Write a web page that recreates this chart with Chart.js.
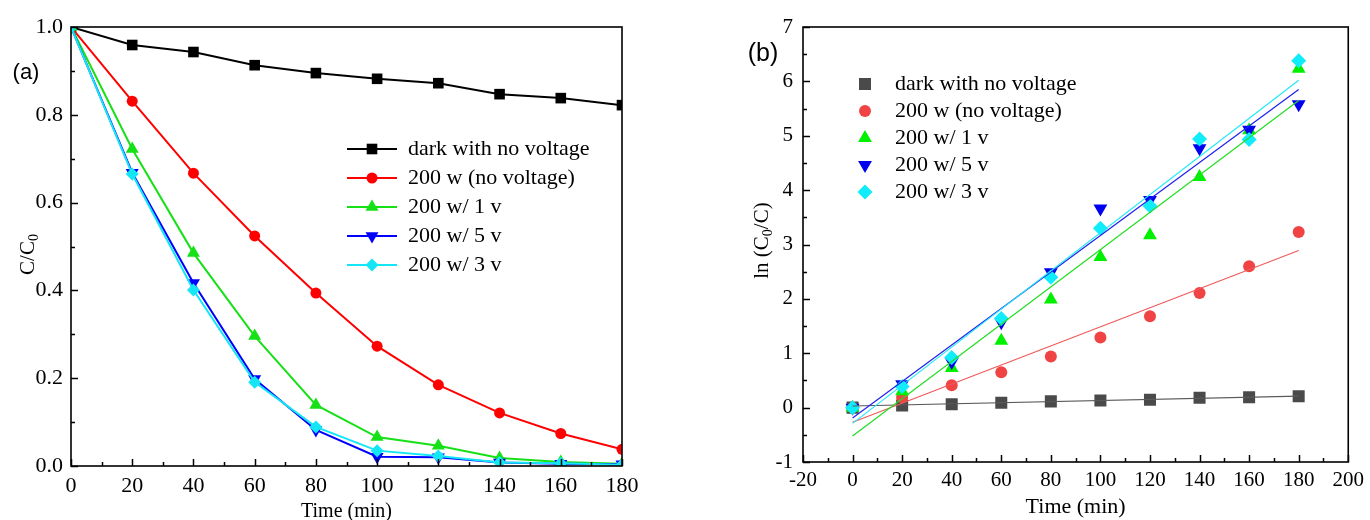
<!DOCTYPE html>
<html>
<head>
<meta charset="utf-8">
<script src="https://cdn.jsdelivr.net/npm/chart.js@4.4.1/dist/chart.umd.min.js"></script>
<style>
  html, body { margin: 0; padding: 0; background: #fff; }
  #wrap { position: relative; width: 1370px; height: 520px; overflow: hidden; }
  .panel { position: absolute; top: 0; width: 685px; height: 520px; }
</style>
</head>
<body>
<div id="wrap">
  <div class="panel" style="left:0"><canvas id="chartA" width="685" height="520"></canvas></div>
  <div class="panel" style="left:685px"><canvas id="chartB" width="685" height="520"></canvas></div>
</div>
<script>
// Sampling times (min)
const times = [0, 20, 40, 60, 80, 100, 120, 140, 160, 180];
const seriesNames = ['dark with no voltage', '200 w (no voltage)', '200 w/ 1 v', '200 w/ 5 v', '200 w/ 3 v'];

// (a) C/C0 versus time
const ratioDark  = [1.000, 0.959, 0.943, 0.913, 0.895, 0.882, 0.872, 0.847, 0.838, 0.822];
const ratioLight = [1.000, 0.831, 0.667, 0.524, 0.394, 0.273, 0.185, 0.121, 0.074, 0.038];
const ratio1V    = [1.000, 0.722, 0.485, 0.296, 0.139, 0.066, 0.046, 0.018, 0.009, 0.005];
const ratio5V    = [1.000, 0.668, 0.417, 0.198, 0.082, 0.021, 0.020, 0.008, 0.005, 0.004];
const ratio3V    = [1.000, 0.665, 0.401, 0.191, 0.089, 0.035, 0.023, 0.008, 0.006, 0.003];

// (b) ln(C0/C) versus time
const lnDark  = [0, 0.04, 0.06, 0.09, 0.115, 0.13, 0.145, 0.18, 0.19, 0.21];
const lnLight = [0, 0.19, 0.41, 0.65, 0.94, 1.29, 1.68, 2.11, 2.60, 3.23];
const ln1V    = [0, 0.30, 0.73, 1.23, 1.99, 2.77, 3.17, 4.24, 5.10, 6.23];
const ln5V    = [0, 0.43, 0.84, 1.57, 2.49, 3.66, 3.82, 4.77, 5.11, 5.58];
const ln3V    = [0, 0.39, 0.92, 1.64, 2.40, 3.30, 3.71, 4.94, 4.93, 6.38];

// Linear fits: value at t = 0 and at t = 180
const fitTimes = [0, 180];
const fitDark  = [0.03, 0.21];
const fitLight = [-0.27, 2.89];
const fit1V    = [-0.52, 5.65];
const fit5V    = [-0.19, 5.85];
const fit3V    = [-0.29, 6.02];

const SERIF = '"Liberation Serif", "Times New Roman", serif';
const SANS = '"Liberation Sans", Arial, sans-serif';

const pts = (xs, ys) => xs.map((x, i) => ({ x: x, y: ys[i] }));

// Frame, inward ticks, legend, axis titles and panel label
const decor = {
  id: 'decor',
  afterDatasetsDraw(chart, args, o) {
    const { ctx, chartArea: a } = chart;
    const xs = chart.scales.x, ys = chart.scales.y;
    ctx.save();
    ctx.strokeStyle = '#000';
    ctx.lineWidth = o.frameWidth;
    ctx.strokeRect(a.left, a.top, a.right - a.left, a.bottom - a.top);

    ctx.lineWidth = o.tickWidth;
    ctx.beginPath();
    const nx = Math.round((xs.max - xs.min) / o.minorX);
    for (let i = 0; i <= nx; i++) {
      const px = Math.round(xs.getPixelForValue(xs.min + i * o.minorX)) + 0.5;
      const len = i % 2 === 0 ? o.majorLen : o.minorLen;
      ctx.moveTo(px, a.bottom);
      ctx.lineTo(px, a.bottom - len);
    }
    const ny = Math.round((ys.max - ys.min) / o.minorY);
    for (let i = 0; i <= ny; i++) {
      const py = Math.round(ys.getPixelForValue(ys.min + i * o.minorY)) + 0.5;
      const len = i % 2 === 0 ? o.majorLen : o.minorLen;
      ctx.moveTo(a.left, py);
      ctx.lineTo(a.left + len, py);
    }
    ctx.stroke();

    // legend
    const L = o.legend;
    ctx.font = L.fontSize + 'px ' + SERIF;
    ctx.textBaseline = 'middle';
    ctx.textAlign = 'left';
    let row = 0;
    chart.data.datasets.forEach((ds) => {
      if (!ds.label) return;
      const y = L.y0 + row * L.dy;
      if (L.line) {
        ctx.strokeStyle = ds.borderColor;
        ctx.lineWidth = ds.borderWidth;
        ctx.beginPath();
        ctx.moveTo(L.lineX0, y);
        ctx.lineTo(L.lineX1, y);
        ctx.stroke();
      }
      ctx.fillStyle = ds.backgroundColor;
      ctx.strokeStyle = ds.backgroundColor;
      Chart.helpers.drawPoint(ctx, {
        pointStyle: ds.pointStyle,
        radius: ds.pointRadius,
        rotation: ds.pointRotation || 0,
        borderWidth: 0
      }, L.markX, y);
      ctx.fillStyle = '#000';
      ctx.fillText(ds.label, L.textX, y);
      row++;
    });

    // panel label
    ctx.font = o.tag.fontSize + 'px ' + SANS;
    ctx.textAlign = 'center';
    ctx.fillText(o.tag.text, o.tag.x, o.tag.y);

    // x title
    ctx.font = o.xTitle.fontSize + 'px ' + SERIF;
    ctx.fillText(o.xTitle.text, (a.left + a.right) / 2, o.xTitle.y);

    // y title with subscript
    const T = o.yTitle;
    const big = T.fontSize + 'px ' + SERIF;
    const small = Math.round(T.fontSize * 0.68) + 'px ' + SERIF;
    let total = 0;
    const widths = T.parts.map((p) => {
      ctx.font = p.sub ? small : big;
      const w = ctx.measureText(p.t).width;
      total += w;
      return w;
    });
    ctx.translate(T.x, (a.top + a.bottom) / 2 + T.dy);
    ctx.rotate(-Math.PI / 2);
    ctx.textAlign = 'left';
    let cx = -total / 2;
    T.parts.forEach((p, i) => {
      ctx.font = p.sub ? small : big;
      ctx.fillText(p.t, cx, p.sub ? T.fontSize * 0.28 : 0);
      cx += widths[i];
    });
    ctx.restore();
  }
};

function axes(xmin, xmax, xstep, ymin, ymax, ystep, yfmt, yWidth, xHeight, xPad, yPad, fontSize) {
  const tickFont = { family: SERIF, size: fontSize };
  return {
    x: {
      type: 'linear', min: xmin, max: xmax,
      grid: { display: false, drawTicks: false },
      border: { display: false },
      ticks: { stepSize: xstep, font: tickFont, color: '#000', padding: xPad, maxRotation: 0, autoSkip: false },
      afterFit: (s) => { s.height = xHeight; }
    },
    y: {
      type: 'linear', min: ymin, max: ymax,
      grid: { display: false, drawTicks: false },
      border: { display: false },
      ticks: { stepSize: ystep, font: tickFont, color: '#000', padding: yPad, autoSkip: false, callback: yfmt },
      afterFit: (s) => { s.width = yWidth; }
    }
  };
}

// ---------- (a) ----------
const colorsA = ['#000000', '#ff0000', '#16e016', '#0000ff', '#14e6f5'];
const stylesA = [
  { pointStyle: 'rect', pointRadius: 7.5 },
  { pointStyle: 'circle', pointRadius: 5.5 },
  { pointStyle: 'triangle', pointRadius: 7.5 },
  { pointStyle: 'triangle', pointRadius: 7.5, pointRotation: 180 },
  { pointStyle: 'rectRot', pointRadius: 6.5 }
];
const seriesA = [ratioDark, ratioLight, ratio1V, ratio5V, ratio3V];

new Chart(document.getElementById('chartA'), {
  type: 'scatter',
  data: {
    datasets: seriesA.map((vals, i) => Object.assign({
      label: seriesNames[i],
      data: pts(times, vals),
      showLine: true,
      borderColor: colorsA[i],
      backgroundColor: colorsA[i],
      pointBackgroundColor: colorsA[i],
      pointBorderColor: colorsA[i],
      pointBorderWidth: 0,
      borderWidth: 2,
      tension: 0,
      clip: 0,
      order: 4 - i
    }, stylesA[i]))
  },
  options: {
    responsive: false,
    animation: false,
    devicePixelRatio: 1,
    layout: { padding: { left: 0, top: 27, right: 63, bottom: 0 } },
    scales: axes(0, 180, 20, 0, 1, 0.2, (v) => v.toFixed(1), 71, 54, 7, 8, 22),
    plugins: {
      legend: { display: false },
      tooltip: { enabled: false },
      decor: {
        frameWidth: 1.6, tickWidth: 1.5, majorLen: 7, minorLen: 4, minorX: 10, minorY: 0.1,
        legend: { line: true, lineX0: 347, lineX1: 397, markX: 372, textX: 408, y0: 149, dy: 29, fontSize: 22 },
        tag: { text: '(a)', x: 26, y: 73, fontSize: 22 },
        xTitle: { text: 'Time (min)', y: 512, fontSize: 20 },
        yTitle: { x: 28, dy: 8, fontSize: 21, parts: [{ t: 'C/C' }, { t: '0', sub: true }] }
      }
    }
  },
  plugins: [decor]
});

// ---------- (b) ----------
const colorsB = ['#4a4a4a', '#f04343', '#00f000', '#0000f0', '#10ecfa'];
const lineColorsB = ['#5a5a5a', '#f05a5a', '#22dd22', '#2020ee', '#22e8f8'];
const stylesB = [
  { pointStyle: 'rect', pointRadius: 8.5 },
  { pointStyle: 'circle', pointRadius: 6 },
  { pointStyle: 'triangle', pointRadius: 8 },
  { pointStyle: 'triangle', pointRadius: 8, pointRotation: 180 },
  { pointStyle: 'rectRot', pointRadius: 7.5 }
];
const seriesB = [lnDark, lnLight, ln1V, ln5V, ln3V];
const fitsB = [fitDark, fitLight, fit1V, fit5V, fit3V];

const scatterB = seriesB.map((vals, i) => Object.assign({
  label: seriesNames[i],
  data: pts(times, vals),
  showLine: false,
  borderColor: colorsB[i],
  backgroundColor: colorsB[i],
  pointBackgroundColor: colorsB[i],
  pointBorderColor: colorsB[i],
  pointBorderWidth: 0,
  borderWidth: 1,
  clip: 0,
  order: 20 - i
}, stylesB[i]));
const linesB = fitsB.map((vals, i) => ({
  data: pts(fitTimes, vals),
  showLine: true,
  borderColor: lineColorsB[i],
  backgroundColor: lineColorsB[i],
  borderWidth: 1.2,
  pointRadius: 0,
  clip: 0,
  order: 10 - i
}));

new Chart(document.getElementById('chartB'), {
  type: 'scatter',
  data: { datasets: scatterB.concat(linesB) },
  options: {
    responsive: false,
    animation: false,
    devicePixelRatio: 1,
    layout: { padding: { left: 0, top: 27, right: 17, bottom: 0 } },
    scales: axes(-20, 200, 20, -1, 7, 1, (v) => String(v), 118, 58, 6, 10, 21),
    plugins: {
      legend: { display: false },
      tooltip: { enabled: false },
      decor: {
        frameWidth: 1.6, tickWidth: 1.5, majorLen: 7, minorLen: 4, minorX: 10, minorY: 0.5,
        legend: { line: false, markX: 180, textX: 210, y0: 84, dy: 27, fontSize: 22 },
        tag: { text: '(b)', x: 78, y: 54, fontSize: 25 },
        xTitle: { text: 'Time (min)', y: 507, fontSize: 22 },
        yTitle: { x: 77, dy: -4, fontSize: 21, parts: [{ t: 'ln (C' }, { t: '0', sub: true }, { t: '/C)' }] }
      }
    }
  },
  plugins: [decor]
});
</script>
</body>
</html>
